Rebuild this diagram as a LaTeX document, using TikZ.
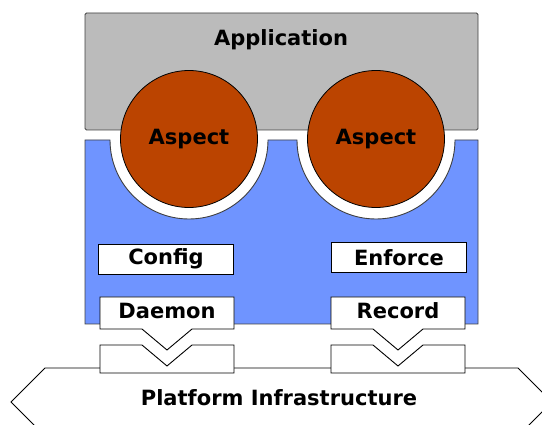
\documentclass[tikz,border=0pt]{standalone}
\usepackage{fontspec}
\setmainfont{DejaVu Sans}
\definecolor{appgrey}{HTML}{BBBBBB}
\definecolor{coreblue}{HTML}{6F94FF}
\definecolor{aspectred}{HTML}{BB4400}
\begin{document}
\begin{tikzpicture}[x=1pt, y=-1pt,
    lbl/.style={font=\bfseries\fontsize{21}{25}\selectfont, inner sep=0pt},
    frame/.style={draw=black!75, line width=0.9pt},
    plug/.style={draw=black, fill=white, line width=0.9pt},
    aspect/.style={circle, draw=black, fill=aspectred, line width=0.8pt, minimum size=137pt, inner sep=0pt},
    part/.style={rectangle, draw=black, fill=white, line width=0.9pt, minimum width=135pt, minimum height=30pt, inner sep=0pt}]
    \useasboundingbox (0,0) rectangle (542,425);
    \clip (0,0) rectangle (542,425);

    % application layer
    \draw[frame, fill=appgrey, rounded corners=1.5pt] (85,13) rectangle (478,130);
    \node[lbl] (app) at (281,40) {Application};

    % core with the two notches
    \draw[frame, fill=coreblue] (85,140) -- (110,140)
        arc[start angle=180, end angle=0, radius=79] -- (297,140)
        arc[start angle=180, end angle=0, radius=79] -- (478,140)
        -- (478,324) -- (85,324) -- cycle;

    \node[aspect] (asp1) at (189,139) {};
    \node[lbl] at (asp1) {Aspect};
    \node[aspect] (asp2) at (376,139) {};
    \node[lbl] at (asp2) {Aspect};

    \node[part] (config) at (166,259) {};
    \node[lbl] at (config) {Config};
    \node[part] (enforce) at (399,257.5) {};
    \node[lbl] at (enforce) {Enforce};

    % platform
    \draw[plug] (45,368) -- (518,368) -- (552,402) -- (518,436) -- (45,436) -- (11,402) -- cycle;
    \node[lbl] (platform) at (279,398) {Platform Infrastructure};

    % plugs and sockets
    \foreach \dx/\name/\txt in {0/daemon/Daemon, 231/record/Record} {
        \begin{scope}[xshift=\dx pt]
            \draw[plug] (100,297) -- (234,297) -- (234,329) -- (192,329) -- (167,350)
                -- (142,329) -- (100,329) -- cycle;
            \draw[plug] (100,345) -- (142,345) -- (167,366) -- (192,345) -- (234,345)
                -- (234,373) -- (100,373) -- cycle;
            \node[lbl] (\name) at (167,311) {\txt};
        \end{scope}
    }
\end{tikzpicture}
\end{document}
